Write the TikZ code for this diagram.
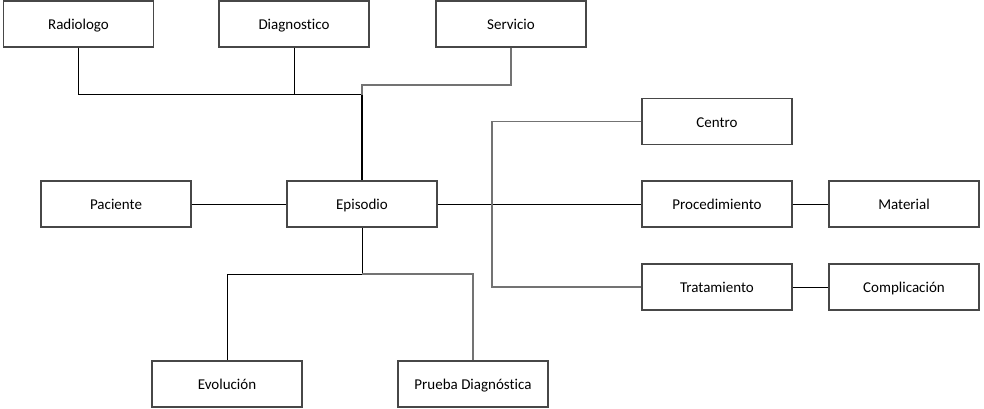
\documentclass[tikz,border=0pt]{standalone}
\usepackage{fontspec}
\setmainfont{Carlito}[Ligatures={NoCommon}]
\begin{document}
\begin{tikzpicture}[x=1pt,y=-1pt,
  box/.style={draw=black!72,line width=1.2pt,minimum width=150pt,minimum height=46pt,inner sep=0pt,text height=13.5pt,text depth=2pt,font=\fontsize{15}{17}\selectfont},
  blk/.style={draw=black,line width=1pt},
  gry/.style={draw=black!55,line width=1.4pt}]
\useasboundingbox (0,0) rectangle (984,409);
\node[box] (rad) at (78.5,24) {Radiologo};
\node[box] (diag) at (294,24) {Diagnostico};
\node[box] (serv) at (511,24) {Servicio};
\node[box] (cen) at (717,121.5) {Centro};
\node[box] (pac) at (116,204) {Paciente};
\node[box] (epi) at (362,204) {Episodio};
\node[box] (proc) at (717,204) {Procedimiento};
\node[box] (mat) at (904,204) {Material};
\node[box] (trat) at (717,287) {Tratamiento};
\node[box] (comp) at (904,287) {Complicación};
\node[box] (evo) at (227,384) {Evolución};
\node[box] (pru) at (473,384) {Prueba Diagnóstica};
\coordinate (jt) at (362,95);
\coordinate (js) at (362,85);
\coordinate (jr) at (492,204);
\coordinate (jb) at (362,274);
\draw[blk] (rad.south) |- (jt);
\draw[blk,line width=1.5pt] (jt) -- (epi.north);
\draw[blk] (diag.south) -- (diag.south |- jt);
\draw[gry] (serv.south) |- (js) -- (jt);
\draw[blk] (pac.east) -- (epi.west);
\draw[blk] (epi.east) -- (proc.west);
\draw[gry] (cen.west) -| (jr) |- (trat.west);
\draw[blk] (proc.east) -- (mat.west);
\draw[blk] (trat.east) -- (comp.west);
\draw[blk] (epi.south) -- (jb) -| (evo.north);
\draw[gry] (jb) -| (pru.north);
\end{tikzpicture}
\end{document}
